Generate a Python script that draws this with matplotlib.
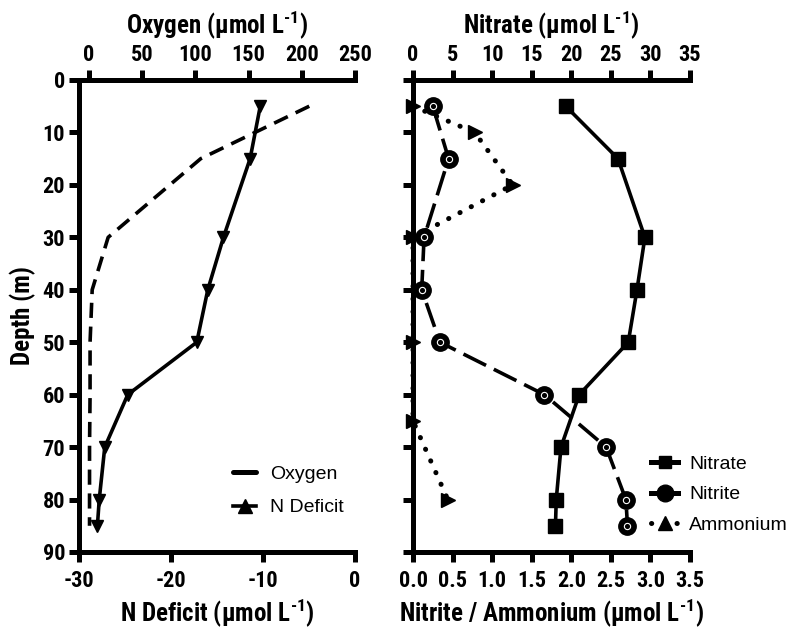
import io
import matplotlib
matplotlib.use("Agg")
import matplotlib.pyplot as plt
from matplotlib.lines import Line2D
from matplotlib import font_manager as fm
from matplotlib import mathtext

avail = {f.name for f in fm.fontManager.ttflist}
FONT = 'Liberation Sans'
for cand in ['Liberation Sans Narrow', 'Arial Narrow', 'Roboto Condensed']:
    if cand in avail:
        FONT = cand
        break
LEGFONT = 'Liberation Sans'

plt.rcParams['font.family'] = [FONT, 'DejaVu Sans']
plt.rcParams['axes.unicode_minus'] = False
plt.rcParams['mathtext.fontset'] = 'custom'
plt.rcParams['mathtext.rm'] = FONT + ':bold'
plt.rcParams['mathtext.bf'] = FONT + ':bold'

SUP = '$^{\\text{-1}}$'
try:
    mathtext.math_to_image(SUP, io.BytesIO(), dpi=72, format='png')
except Exception:
    SUP = '$^{-1}$'

# ---- data ----
depth_left = [5, 15, 30, 40, 50, 60, 70, 80, 85]
oxygen = [207, 105, 18, 3, 1, 1, 0.5, 0.5, 0.5]
n_deficit = [-10.3, -11.4, -14.3, -16.0, -17.2, -24.7, -27.2, -27.8, -28.0]

depth_right = [5, 15, 30, 40, 50, 60, 70, 80, 85]
nitrate = [19.3, 25.9, 29.3, 28.3, 27.2, 21.0, 18.7, 18.1, 18.0]
nitrite = [0.25, 0.45, 0.14, 0.11, 0.34, 1.66, 2.44, 2.69, 2.71]

depth_amm = [5, 10, 20, 30, 50, 65, 80]
ammonium = [0.0, 0.78, 1.26, 0.0, 0.0, 0.0, 0.44]

depth_ticks = [0, 10, 20, 30, 40, 50, 60, 70, 80, 90]
ndef_ticks = [-30, -20, -10, 0]
oxy_ticks = [0, 50, 100, 150, 200, 250]
nitrate_ticks = [0, 5, 10, 15, 20, 25, 30, 35]
nitrite_ticks = [0.0, 0.5, 1.0, 1.5, 2.0, 2.5, 3.0, 3.5]

W, H = 793, 640
fig = plt.figure(figsize=(W / 100, H / 100), dpi=100)

def rect(x0, x1, y0, y1):
    return [x0 / W, 1 - y1 / H, (x1 - x0) / W, (y1 - y0) / H]

SP = 3.6
LW = 2.6
TICKFS = 16
LABFS = 18

def style(ax, spines):
    for s in ['left', 'right', 'top', 'bottom']:
        ax.spines[s].set_visible(s in spines)
        ax.spines[s].set_linewidth(SP)
    ax.tick_params(width=SP, length=7, labelsize=TICKFS, pad=3)
    ax.tick_params(axis='x', pad=6)
    for lab in ax.get_xticklabels() + ax.get_yticklabels():
        lab.set_fontweight('bold')

# ---- left panel ----
ax1 = fig.add_axes(rect(79, 355, 80, 552))
ax1.set_ylim(90, 0)
ax1.set_xlim(-30, 0)
ax1.set_xticks(ndef_ticks)
ax1.set_yticks(depth_ticks)
ax1.plot(n_deficit, depth_left, color='black', lw=LW, marker='v', ms=8, zorder=3, clip_on=False)
ax1.set_xlabel('N Deficit (µmol L' + SUP + ')', fontsize=LABFS, fontweight='bold', labelpad=3)
ax1.set_ylabel('Depth (m)', fontsize=LABFS, fontweight='bold', labelpad=5)
style(ax1, ['left', 'bottom', 'top'])

ax1t = ax1.twiny()
ax1t.set_xlim(-9.4, 250)
ax1t.set_xticks(oxy_ticks)
ax1t.plot(oxygen, depth_left, color='black', lw=LW, dashes=(4.2, 2.4), zorder=2)
ax1t.set_ylim(90, 0)
ax1t.set_xlabel('Oxygen (µmol L' + SUP + ')', fontsize=LABFS, fontweight='bold', labelpad=8)
style(ax1t, ['left', 'bottom', 'top'])
ax1t.tick_params(axis='x', pad=3)

h1 = [Line2D([], [], color='black', lw=LW + 1, solid_capstyle='round'),
      Line2D([], [], color='black', lw=LW, marker='^', ms=10)]
ax1.legend(h1, ['Oxygen', 'N Deficit'], loc='upper left', frameon=False,
           prop={'family': LEGFONT, 'size': 14}, handlelength=1.2, handletextpad=0.7,
           labelspacing=0.83, borderpad=0, borderaxespad=0,
           bbox_to_anchor=(233 / W, 1 - 465 / H), bbox_transform=fig.transFigure)

# ---- right panel ----
ax2 = fig.add_axes(rect(413, 690, 80, 552))
ax2.set_ylim(90, 0)
ax2.set_xlim(0, 3.5)
ax2.set_xticks(nitrite_ticks)
ax2.set_xticklabels([f'{v:.1f}' for v in nitrite_ticks])
ax2.set_yticks(depth_ticks)
ax2.set_yticklabels([])
ax2.plot(ammonium, depth_amm, color='black', lw=3.6, dashes=(0.05, 2.5), dash_capstyle='round',
         marker='>', ms=10, zorder=3, clip_on=False)
ax2.plot(nitrite, depth_right, color='black', lw=LW, dashes=(7, 2.4), marker='o', ms=12.5,
         zorder=4, clip_on=False)
ax2.plot(nitrite, depth_right, ls='none', marker='o', ms=4.5, mfc='none', mec='white',
         mew=0.8, zorder=5, clip_on=False)
ax2.set_xlabel('Nitrite / Ammonium (µmol L' + SUP + ')', fontsize=LABFS, fontweight='bold', labelpad=3)
style(ax2, ['left', 'bottom', 'top'])

ax2t = ax2.twiny()
ax2t.set_xlim(0, 35)
ax2t.set_xticks(nitrate_ticks)
ax2t.set_ylim(90, 0)
ax2t.plot(nitrate, depth_right, color='black', lw=LW, marker='s', ms=9.5, zorder=3, clip_on=False)
ax2t.set_xlabel('Nitrate (µmol L' + SUP + ')', fontsize=LABFS, fontweight='bold', labelpad=8)
style(ax2t, ['left', 'bottom', 'top'])
ax2t.tick_params(axis='x', pad=3)

h2 = [Line2D([], [], color='black', lw=LW + 1, marker='s', ms=9),
      Line2D([], [], color='black', lw=LW + 1, marker='o', ms=12),
      Line2D([], [], color='black', lw=3.6, dashes=(0.05, 2.5), dash_capstyle='round', marker='^', ms=10)]
fig.legend(h2, ['Nitrate', 'Nitrite', 'Ammonium'], loc='upper left', frameon=False,
           prop={'family': LEGFONT, 'size': 14}, handlelength=1.4, handletextpad=0.55,
           labelspacing=0.68, borderpad=0, borderaxespad=0,
           bbox_to_anchor=(651 / W, 1 - 455 / H))

fig.savefig('out.png', dpi=100)
